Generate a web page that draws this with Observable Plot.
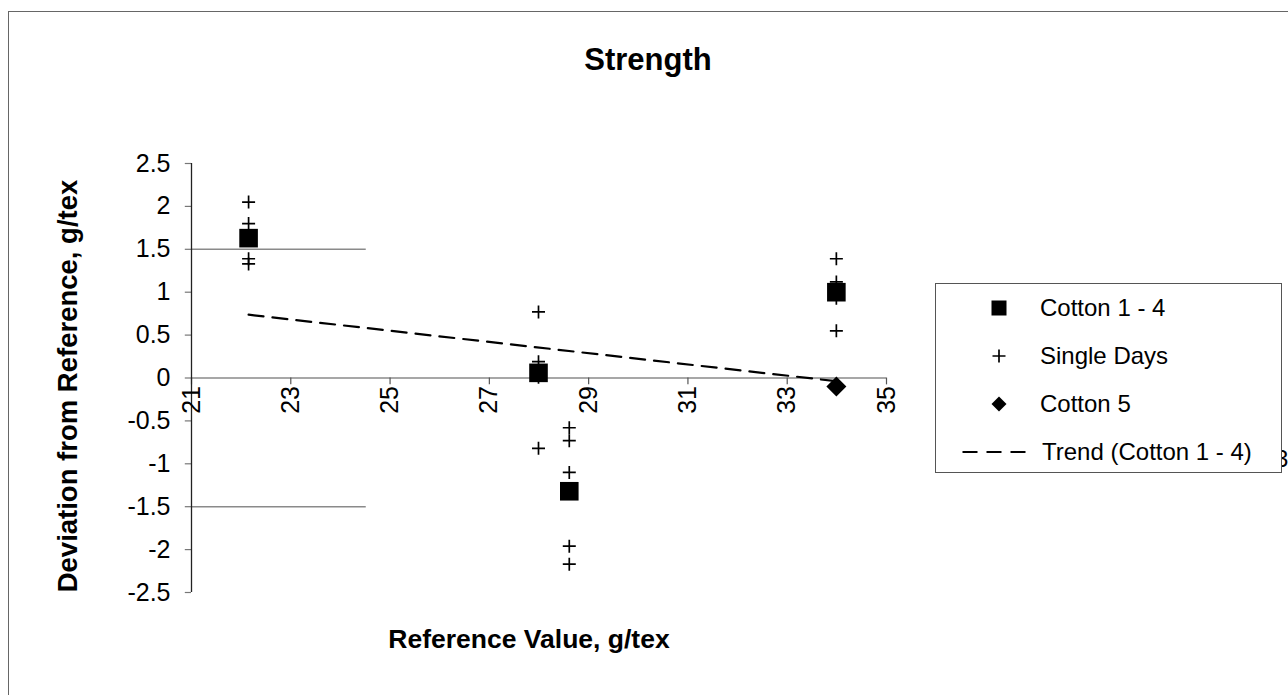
<!DOCTYPE html>
<html><head><meta charset="utf-8">
<script src="https://cdn.jsdelivr.net/npm/d3@7"></script>
<script src="https://cdn.jsdelivr.net/npm/@observablehq/plot@0.6"></script>
<style>
html,body{margin:0;padding:0;background:#fff;overflow:hidden;}
#wrap{position:relative;width:1288px;height:695px;overflow:hidden;font-family:"Liberation Sans",Arial,sans-serif;color:#000;background:#fff;}
#frame{position:absolute;left:7.5px;top:10.5px;width:1400px;height:800px;border:1.5px solid #666;box-sizing:border-box;}
#title{position:absolute;left:0;width:1296px;top:44px;text-align:center;font-size:31px;line-height:31px;font-weight:bold;}
#chart{position:absolute;left:0;top:0;}
#stray{position:absolute;left:1275px;top:447px;font-size:24px;line-height:24px;}
#legend{position:absolute;left:935px;top:283px;width:347px;height:190px;box-sizing:border-box;border:1.5px solid #555;background:#fff;}
.row{position:absolute;left:0;height:30px;width:100%;}
.row svg{position:absolute;top:0;}
.row span{position:absolute;left:104px;top:3px;font-size:24px;line-height:24px;white-space:nowrap;}
</style></head>
<body>
<div id="wrap">
  <div id="frame"></div>
  <div id="title">Strength</div>
  <div id="stray">3</div>
  <div id="chart"></div>
  <div id="legend"></div>
</div>
<script>
// ---- data ----
const xTicks = [21, 23, 25, 27, 29, 31, 33, 35];
const yTicks = [-2.5, -2, -1.5, -1, -0.5, 0, 0.5, 1, 1.5, 2, 2.5];
const cottonX = [22.15, 27.99, 28.61, 33.99];
const cottonY = [1.63, 0.06, -1.32, 1.00];
const cotton5X = [33.99];
const cotton5Y = [-0.10];
const singleX = [22.15, 22.15, 22.15, 22.15, 22.15,
                 27.99, 27.99, 27.99, 27.99,
                 28.61, 28.61, 28.61, 28.61, 28.61,
                 33.99, 33.99, 33.99, 33.99];
const singleY = [2.05, 1.80, 1.65, 1.39, 1.33,
                 0.77, 0.19, 0.01, -0.82,
                 -0.58, -0.73, -1.10, -1.96, -2.17,
                 1.39, 1.12, 0.93, 0.55];
const limitLines = [1.5, -1.5];
const legendLabels = ["Cotton 1 - 4", "Single Days", "Cotton 5", "Trend (Cotton 1 - 4)"];

const cotton = cottonX.map((x, i) => ({x, y: cottonY[i]}));
const cotton5 = cotton5X.map((x, i) => ({x, y: cotton5Y[i]}));
const single = singleX.map((x, i) => ({x, y: singleY[i]}));

// custom symbols: r = half size
const rr = s => Math.sqrt(s / Math.PI);
const squareSym = {draw(c, s){const r = rr(s); c.rect(-r, -r, 2*r, 2*r);}};
const diamondSym = {draw(c, s){const r = rr(s); c.moveTo(0,-r); c.lineTo(r,0); c.lineTo(0,r); c.lineTo(-r,0); c.closePath();}};
const plusSym = {draw(c, s){const r = rr(s); c.moveTo(-r,0); c.lineTo(r,0); c.moveTo(0,-r); c.lineTo(0,r);}};

const font = '"Liberation Sans", Arial, sans-serif';

const plot = Plot.plot({
  width: 1288,
  height: 695,
  marginLeft: 191,
  marginRight: 402,
  marginTop: 163,
  marginBottom: 103,
  style: {background: "transparent", fontFamily: font, color: "#000", overflow: "visible"},
  x: {domain: [21, 35], axis: null},
  y: {domain: [-2.5, 2.5], axis: null},
  marks: [
    Plot.ruleY(limitLines, {x1: 21, x2: 24.52, stroke: "#8a8a8a", strokeWidth: 1.5}),
    Plot.ruleY([0], {x1: 21, x2: 35, stroke: "#8a8a8a", strokeWidth: 1.5}),
    Plot.ruleX(xTicks, {y1: 0, y2: -0.08, stroke: "#555", strokeWidth: 1.2}),
    Plot.ruleY(yTicks, {x1: 21, x2: 20.875, stroke: "#777", strokeWidth: 1.2}),
    Plot.ruleX([21], {y1: -2.5, y2: 2.5, stroke: "#222", strokeWidth: 1.3}),
    Plot.axisY({ticks: yTicks, tickSize: 0, tickPadding: 21, fontSize: 25, tickFormat: d => String(d), label: null}),
    Plot.text(xTicks, {x: d => d, y: 0, text: d => String(d), rotate: -90, textAnchor: "end", lineAnchor: "middle", dy: 8, fontSize: 25}),
    Plot.linearRegressionY(cotton, {x: "x", y: "y", ci: 0, stroke: "#000", strokeWidth: 2.2, strokeDasharray: "15,9"}),
    Plot.dot(cotton, {x: "x", y: "y", symbol: squareSym, r: 9.3, fill: "#000", stroke: "none"}),
    Plot.dot(cotton5, {x: "x", y: "y", symbol: diamondSym, r: 10, fill: "#000", stroke: "none"}),
    Plot.dot(single, {x: "x", y: "y", symbol: plusSym, r: 6.5, stroke: "#000", fill: "none", strokeWidth: 1.7}),
    Plot.text(["Reference Value, g/tex"], {frameAnchor: "bottom", dx: -10, dy: 47, lineAnchor: "middle", fontSize: 26.5, fontWeight: "bold"}),
    Plot.text(["Deviation from Reference, g/tex"], {frameAnchor: "left", rotate: -90, dx: -123, dy: 8, lineAnchor: "middle", textAnchor: "middle", fontSize: 27.5, fontWeight: "bold"})
  ]
});
document.getElementById("chart").appendChild(plot);

// ---- legend ----
const legend = document.getElementById("legend");
const rowCenters = [24, 72, 120, 168];
const icons = [
  '<svg width="30" height="30" style="left:48px"><rect x="7.5" y="7.5" width="15" height="15" fill="#000"/></svg>',
  '<svg width="30" height="30" style="left:48px"><path d="M8.5 15H21.5M15 8.5V21.5" stroke="#000" stroke-width="1.7"/></svg>',
  '<svg width="30" height="30" style="left:48px"><path d="M15 7.5L22.5 15L15 22.5L7.5 15Z" fill="#000"/></svg>',
  '<svg width="75" height="30" style="left:26px"><path d="M0.5 15H71" stroke="#000" stroke-width="2" stroke-dasharray="15,9"/></svg>'
];
legendLabels.forEach((lab, i) => {
  const row = document.createElement("div");
  row.className = "row";
  row.style.top = (rowCenters[i] - 15) + "px";
  row.innerHTML = icons[i] + '<span' + (i === 3 ? ' style="left:106px"' : '') + '>' + lab + '</span>';
  legend.appendChild(row);
});
</script>
</body></html>
